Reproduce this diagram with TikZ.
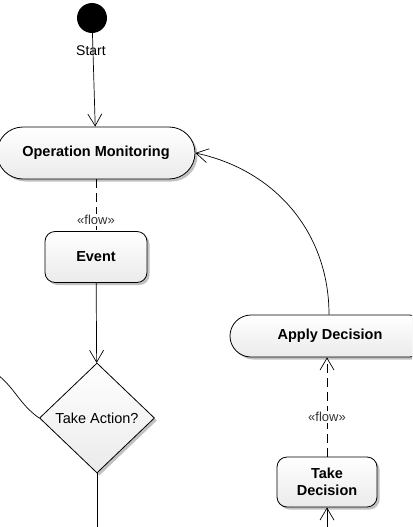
\documentclass[tikz,border=0pt]{standalone}
\usepackage{fontspec}
\setmainfont{Liberation Sans}
\usetikzlibrary{shapes.geometric,shadows,arrows.meta}

\tikzset{
  box/.style={draw, line width=.8pt, top color=white, bottom color=gray!16,
    drop shadow={shadow xshift=2.5pt, shadow yshift=-2.5pt, fill=gray!70, opacity=.7},
    font=\fontsize{14.5}{16.5}\selectfont\bfseries, align=center, inner sep=0pt},
  flowlbl/.style={fill=white, inner sep=1pt, text=black!80, font=\fontsize{13}{15}\selectfont},
  barb/.style={-{Straight Barb[length=12pt,width=14pt,line width=.7pt]}},
  flowline/.style={line width=.7pt, dash pattern=on 9pt off 5pt}
}

\begin{document}
\begin{tikzpicture}[x=1pt,y=1pt]

      \useasboundingbox (0,0) rectangle (412,-527);
      \clip (0,0) rectangle (412,-527);

      \node[circle, fill=black, minimum size=30pt, inner sep=0pt] (start) at (92,-18) {};

      \begin{scope}[every node/.style={box}]
        \node[minimum width=198pt, minimum height=52pt, rounded corners=26pt] (om)  at (96,-153)  {Operation Monitoring};
        \node[minimum width=200pt, minimum height=42pt, rounded corners=21pt] (ad)  at (330,-336) {Apply Decision};
        \node[minimum width=102pt, minimum height=51pt, rounded corners=10pt] (ev)  at (96,-257)  {Event};
        \node[minimum width=100pt, minimum height=50pt, rounded corners=10pt] (td)  at (327,-482) {Take\\Decision};
        \node[diamond, minimum width=115pt, minimum height=110pt, font=\fontsize{14.5}{16.5}\selectfont] (ta) at (97,-418) {Take Action?};
      \end{scope}

      \coordinate (inl) at (-6,-372);
      \coordinate (outb) at (97,-540);
      \coordinate (inb) at (327,-540);

      \begin{scope}[line width=.7pt]
        \draw[barb] (start) -- (om);
        \node[font=\fontsize{14}{16}\selectfont] (startlbl) at (91,-51) {Start};
        \draw[barb] (ev) -- (ta);
        \draw (ta) -- (outb);
        \draw (inl) to[out=-35,in=145] (ta.west);
        \draw[barb] (ad.north -| 329,0) to[out=90,in=-12] (om.east);
        \draw[barb] (inb) -- (td);
      \end{scope}

      \draw[flowline] (om) -- node[flowlbl, pos=.78] {«flow»} (ev);
      \draw[flowline, barb] (td) -- node[flowlbl, pos=.4] {«flow»} (td |- ad.south);

    \end{tikzpicture}
\end{document}
